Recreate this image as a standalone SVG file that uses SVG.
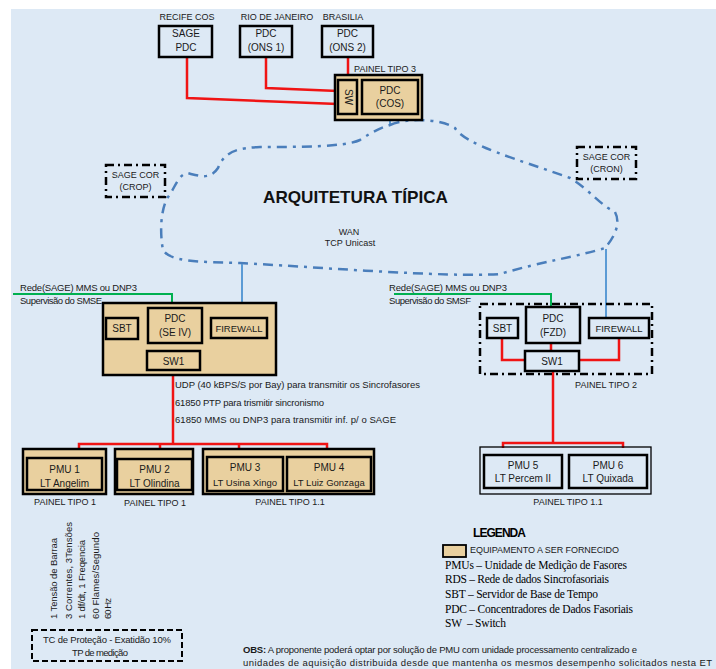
<svg xmlns="http://www.w3.org/2000/svg" width="716" height="669" viewBox="0 0 716 669">
<defs>
<style>
.t{font-family:"Liberation Sans",Arial,sans-serif;font-size:9.5px;fill:#1a1a1a}
.m{font-size:10px}
.s9{font-size:9px}
.c{text-anchor:middle}
.b{font-weight:bold}
.box{fill:none;stroke:#000;stroke-width:2.5}
.tan{fill:#e9d09f;stroke:#000;stroke-width:2.5}
.red{fill:none;stroke:#f01414;stroke-width:2.5}
.blue{fill:none;stroke:#5b9bd5;stroke-width:2}
.green{fill:none;stroke:#00b050;stroke-width:2}
.dd{fill:none;stroke:#000;stroke-width:2.5;stroke-dasharray:8 4 2 4}
.cloud{fill:none;stroke:#4a7ebb;stroke-width:2.5;stroke-dasharray:10 6 3 6}
.serif{font-family:"Liberation Serif","Times New Roman",serif;font-size:11.5px;fill:#000}
</style>
</defs>
<rect x="0" y="0" width="716" height="669" fill="#ffffff"/>
<rect x="11" y="9" width="705" height="660" fill="#dde9f5"/>

<g id="connectors">
  <path class="red" d="M187,57 V98 L338,104"/>
  <path class="red" d="M266,57 V88 L338,91"/>
  <path class="red" d="M348,57 V80"/>
  <path class="blue" d="M357,98 H362"/>
  <path class="blue" d="M390,114 V125"/>
  <path class="cloud" d="M390,125 C405,118 440,118 455,128 C465,145 520,160 570,178 C590,190 600,205 615,212 C622,225 612,240 605,248 C580,256 540,262 500,274 C450,278 300,266 240,263 C200,262 170,262 163,250 C160,235 160,210 168,197 C175,188 178,175 187,173 C200,176 210,180 218,168 C225,150 240,148 260,147 C300,147 345,147 360,140 C372,132 380,128 390,125 Z"/>
  <path class="blue" d="M242,264 V318"/>
  <path class="blue" d="M606,249 V318"/>
  <path class="green" d="M13,294 H172 V308"/>
  <path class="green" d="M394,294 H551 V307"/>
  <path class="red" d="M122,339 V360 H147"/>
  <path class="red" d="M172,343 V351"/>
  <path class="red" d="M240,338 V360 H200"/>
  <path class="red" d="M173,370 V444"/>
  <path class="red" d="M79,449 V444 H327 V449 M160,444 V449 M239,444 V449"/>
  <path class="red" d="M502,338 V360 H525"/>
  <path class="red" d="M551,343 V351"/>
  <path class="red" d="M619,338 V360 H579"/>
  <path class="red" d="M553,371 V443"/>
  <path class="red" d="M503,448 V443 H623 V448"/>
</g>

<g id="recife">
  <text class="t s9 c" x="187" y="20">RECIFE COS</text>
  <rect class="box" x="159" y="26" width="53" height="31"/>
  <text class="t m c" x="186" y="37">SAGE</text>
  <text class="t m c" x="186" y="51">PDC</text>
</g>
<g id="rio">
  <text class="t s9 c" x="277" y="20">RIO DE JANEIRO</text>
  <rect class="box" x="240" y="26" width="52" height="31"/>
  <text class="t m c" x="266" y="37">PDC</text>
  <text class="t m c" x="266" y="51">(ONS 1)</text>
</g>
<g id="brasilia">
  <text class="t s9 c" x="343" y="20">BRASILIA</text>
  <rect class="box" x="322" y="26" width="51" height="31"/>
  <text class="t m c" x="347.5" y="37">PDC</text>
  <text class="t m c" x="347.5" y="51">(ONS 2)</text>
</g>
<g id="painel3">
  <text class="t s9 c" x="385" y="72">PAINEL TIPO 3</text>
  <rect class="tan" x="335" y="75" width="87" height="45"/>
  <rect class="tan" x="338" y="80" width="19" height="34"/>
  <text class="t m c" transform="translate(344.5,97) rotate(90)">SW</text>
  <rect class="tan" x="362" y="80" width="56" height="34"/>
  <text class="t m c" x="390" y="94">PDC</text>
  <text class="t m c" x="390" y="107">(COS)</text>
</g>
<g id="sagecor-crop">
  <rect class="dd" x="106" y="165" width="59" height="32"/>
  <text class="t s9 c" x="135.5" y="178">SAGE COR</text>
  <text class="t s9 c" x="135.5" y="190">(CROP)</text>
</g>
<g id="sagecor-cron">
  <rect class="dd" x="577" y="147" width="59" height="32"/>
  <text class="t s9 c" x="606.5" y="160">SAGE COR</text>
  <text class="t s9 c" x="606.5" y="172">(CRON)</text>
</g>
<g id="wan">
  <text class="t b c" x="355.5" y="203" style="font-size:17px;fill:#111" textLength="185" lengthAdjust="spacingAndGlyphs">ARQUITETURA TÍPICA</text>
  <text class="t s9 c" x="349" y="235">WAN</text>
  <text class="t s9 c" x="350" y="246">TCP  Unicast</text>
</g>

<g id="se4">
  <text class="t" x="20" y="291" textLength="117">Rede(SAGE) MMS ou DNP3</text>
  <text class="t" x="20" y="304" textLength="82">Supervisão do SMSE</text>
  <rect class="tan" x="103" y="303" width="173" height="72"/>
  <rect class="box" x="106" y="318" width="32" height="21"/>
  <text class="t m c" x="122" y="332">SBT</text>
  <rect class="box" x="148" y="308" width="54" height="35"/>
  <text class="t m c" x="175" y="322">PDC</text>
  <text class="t m c" x="175" y="336">(SE IV)</text>
  <rect class="box" x="211" y="318" width="56" height="20"/>
  <text class="t c" x="239" y="332">FIREWALL</text>
  <rect class="box" x="147" y="351" width="53" height="19"/>
  <text class="t m c" x="173.5" y="364.5">SW1</text>
</g>
<g id="fzd">
  <text class="t" x="389" y="291" textLength="118">Rede(SAGE) MMS ou DNP3</text>
  <text class="t" x="389" y="304" textLength="82">Supervisão do SMSF</text>
  <rect class="dd" x="480" y="304" width="172" height="70"/>
  <rect class="box" x="487" y="318" width="31" height="20"/>
  <text class="t m c" x="502.5" y="332">SBT</text>
  <rect class="box" x="526" y="307" width="54" height="36"/>
  <text class="t m c" x="553" y="322">PDC</text>
  <text class="t m c" x="553" y="336">(FZD)</text>
  <rect class="box" x="589" y="318" width="60" height="20"/>
  <text class="t c" x="619" y="332">FIREWALL</text>
  <rect class="box" x="525" y="351" width="54" height="20"/>
  <text class="t m c" x="552" y="365">SW1</text>
  <text class="t s9 c" x="606" y="388">PAINEL TIPO 2</text>
</g>
<g id="protocolos">
  <text class="t" x="175" y="388" textLength="245">UDP  (40 kBPS/S por Bay) para transmitir os Sincrofasores</text>
  <text class="t" x="175" y="406" textLength="149">61850  PTP para trismitir sincronismo</text>
  <text class="t" x="175" y="423" textLength="221">61850  MMS ou DNP3 para transmitir inf. p/ o SAGE</text>
</g>

<g id="pmu1">
  <rect class="tan" x="23" y="449" width="83" height="45"/>
  <rect class="tan" x="27" y="458" width="75" height="32"/>
  <text class="t m c" x="64.5" y="472.5">PMU 1</text>
  <text class="t m c" x="64.5" y="486.5">LT Angelim</text>
  <text class="t s9 c" x="65" y="505">PAINEL TIPO 1</text>
</g>
<g id="pmu2">
  <rect class="tan" x="115" y="449" width="78" height="45"/>
  <rect class="tan" x="117" y="459" width="75" height="31"/>
  <text class="t m c" x="154.5" y="472.5">PMU 2</text>
  <text class="t m c" x="154.5" y="486.5">LT Olindina</text>
  <text class="t s9 c" x="155" y="506">PAINEL TIPO 1</text>
</g>
<g id="pmu34">
  <rect class="tan" x="203" y="449" width="171" height="45"/>
  <rect class="tan" x="207" y="457" width="76" height="34"/>
  <text class="t m c" x="245" y="470.5">PMU 3</text>
  <text class="t c" x="245" y="485.5">LT Usina Xingo</text>
  <rect class="tan" x="287" y="457" width="84" height="34"/>
  <text class="t m c" x="329" y="470.5">PMU 4</text>
  <text class="t c" x="329" y="485.5">LT Luiz Gonzaga</text>
  <text class="t s9 c" x="290" y="505">PAINEL TIPO 1.1</text>
</g>
<g id="pmu56">
  <rect x="480" y="447" width="171" height="47" fill="none" stroke="#000" stroke-width="1.3"/>
  <rect class="box" x="484" y="455" width="78" height="33"/>
  <text class="t m c" x="523" y="468.5">PMU 5</text>
  <text class="t m c" x="523" y="481.5">LT Percem II</text>
  <rect class="box" x="569" y="455" width="78" height="33"/>
  <text class="t m c" x="608" y="468.5">PMU 6</text>
  <text class="t m c" x="608" y="481.5">LT Quixada</text>
  <text class="t s9 c" x="568" y="505">PAINEL TIPO 1.1</text>
</g>

<g id="grandezas">
  <text class="t" transform="translate(57,619) rotate(-90)" textLength="81">1 Tensão de Barraa</text>
  <text class="t" transform="translate(71.5,619) rotate(-90)" textLength="97">3 Correntes, 3Tensões</text>
  <text class="t" transform="translate(85,619) rotate(-90)" textLength="79">1 df/dt, 1 Freqencia</text>
  <text class="t" transform="translate(98.5,619) rotate(-90)" textLength="87">60 Flames/Segundo</text>
  <text class="t" transform="translate(110.5,619) rotate(-90)" textLength="21">60 Hz</text>
</g>
<g id="tc">
  <rect x="32" y="630" width="150" height="31" fill="none" stroke="#000" stroke-width="2" stroke-dasharray="6 3"/>
  <text class="t c" x="107" y="643" textLength="128">TC de Proteção - Exatidão 10%</text>
  <text class="t c" x="100" y="656" textLength="56">TP de medição</text>
</g>

<g id="legenda">
  <text class="t b" x="473" y="537" style="font-size:12px;fill:#000" textLength="53">LEGENDA</text>
  <rect x="443" y="545" width="23" height="12" fill="#e9d09f" stroke="#000" stroke-width="1.8"/>
  <text class="t s9" x="470" y="553" textLength="149">EQUIPAMENTO A SER FORNECIDO</text>
  <text class="serif" x="445" y="569" textLength="182">PMUs – Unidade de Medição de Fasores</text>
  <text class="serif" x="445" y="583" textLength="164">RDS – Rede de dados Sincrofasoriais</text>
  <text class="serif" x="445" y="598" textLength="153">SBT – Servidor de Base de Tempo</text>
  <text class="serif" x="445" y="613" textLength="188">PDC – Concentradores de Dados Fasoriais</text>
  <text class="serif" x="445" y="627" textLength="61" xml:space="preserve">SW  – Switch</text>
</g>

<g id="obs">
  <text class="t" x="243" y="653" textLength="394"><tspan class="b">OBS:</tspan> A proponente poderá optar por solução de PMU com unidade processamento centralizado e</text>
  <text class="t" x="243" y="666" textLength="469">unidades de aquisição distribuida desde que mantenha os mesmos desempenho solicitados nesta ET</text>
</g>
</svg>
